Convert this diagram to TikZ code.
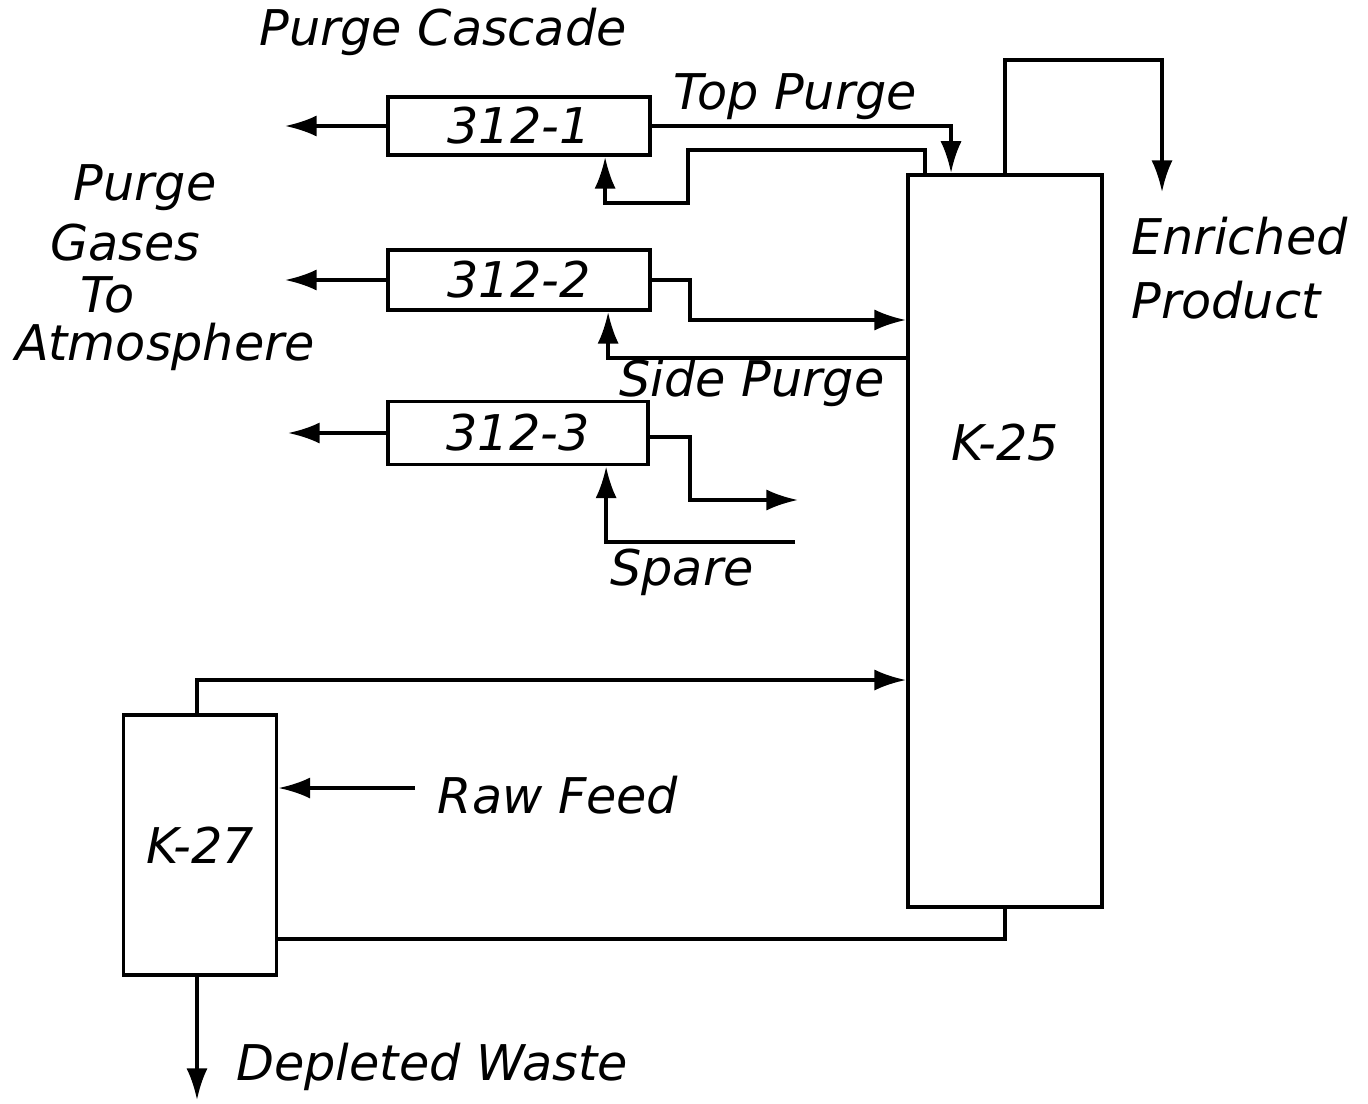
\documentclass[tikz,border=0pt]{standalone}
\usepackage{fontspec}
\setmainfont{DejaVu Sans}
\usepackage{tikz}
\usetikzlibrary{arrows.meta,calc}

\begin{document}
\begin{tikzpicture}[x=0.01cm,y=-0.01cm,line width=1pt,
    unit/.style={draw,line width=1.1pt,inner sep=0pt},
    flow/.style={-{Latex[length=9pt,width=6pt]}},
    lbl/.style={font=\fontsize{14}{18}\selectfont\itshape}]
\useasboundingbox (0,0) rectangle (1368,1103);
% columns
\node[unit,minimum width=1.94cm,minimum height=7.32cm,
    label={[lbl,yshift=0.98cm]center:K-25}] (K25) at (1005,541) {};
\node[unit,lbl,minimum width=1.53cm,minimum height=2.60cm] (K27) at (200,845) {K-27};
% purge cascade
\node[unit,lbl,minimum width=2.62cm,minimum height=0.58cm] (p312a) at (519,126) {312-1};
\node[unit,lbl,minimum width=2.62cm,minimum height=0.60cm] (p312b) at (519,280) {312-2};
\node[unit,lbl,minimum width=2.60cm,minimum height=0.63cm] (p312c) at (518,433) {312-3};
\coordinate (vent1) at (285,126);
\coordinate (vent2) at (285,280);
\coordinate (vent3) at (288,433);
\coordinate (spareout) at (798,500);
\coordinate (sparein) at (795,542);
\coordinate (rawfeed) at (415,788);
\coordinate (waste) at (197,1100);
\coordinate (enriched) at (1162,192);
%[vents]
\foreach \b/\v in {p312a/vent1,p312b/vent2,p312c/vent3}
    \draw[flow] (\b.west) -- (\v);
% top purge
\draw[flow] (p312a.east) -| ([xshift=0.45cm]K25.north west);
\draw[flow] ([xshift=0.19cm]K25.north west) |- (688,150) -- (688,203)
    -| ([xshift=2.19cm]p312a.south west);
% side purge
\draw[flow] (p312b.east) -- (690,280) |- (K25.west |- 0,320);
\draw[flow] (K25.west |- 0,358) -| ([xshift=2.22cm]p312b.south west);
% spare
\draw[flow] (p312c.east |- 0,437) -- (690,437) |- (spareout);
\draw[flow] (sparein) -| ([xshift=2.2cm]p312c.south west);
% K-27 / K-25
\draw[flow] ([xshift=-0.03cm]K27.north) |- (K25.west |- 0,680);
\draw[flow] (rawfeed) -- (K27.east |- rawfeed);
\draw[flow] ([xshift=-0.03cm]K27.south) -- (waste);
\draw (K25.south) |- (K27.east |- 0,939);
\draw[flow] (K25.north) -- (1005,60) -| (enriched);
% labels
\node[lbl] (lcascade) at (443,32) {Purge Cascade};
\node[lbl] (ltop) at (795,97) {Top Purge};
\node[lbl] (lgas1) at (145,188) {Purge};
\node[lbl] (lgas2) at (125,243) {Gases};
\node[lbl] (lgas3) at (108,295) {To};
\node[lbl] (lgas4) at (165,347) {Atmosphere};
\node[lbl] (lside) at (752,383) {Side Purge};
\node[lbl] (lspare) at (682,572) {Spare};
\node[lbl] (lraw) at (558,795) {Raw Feed};
\node[lbl] (lwaste) at (432,1067) {Depleted Waste};
\node[lbl,align=left,anchor=west] (lprod) at (1118,268) {Enriched\\Product};
\end{tikzpicture}
\end{document}
